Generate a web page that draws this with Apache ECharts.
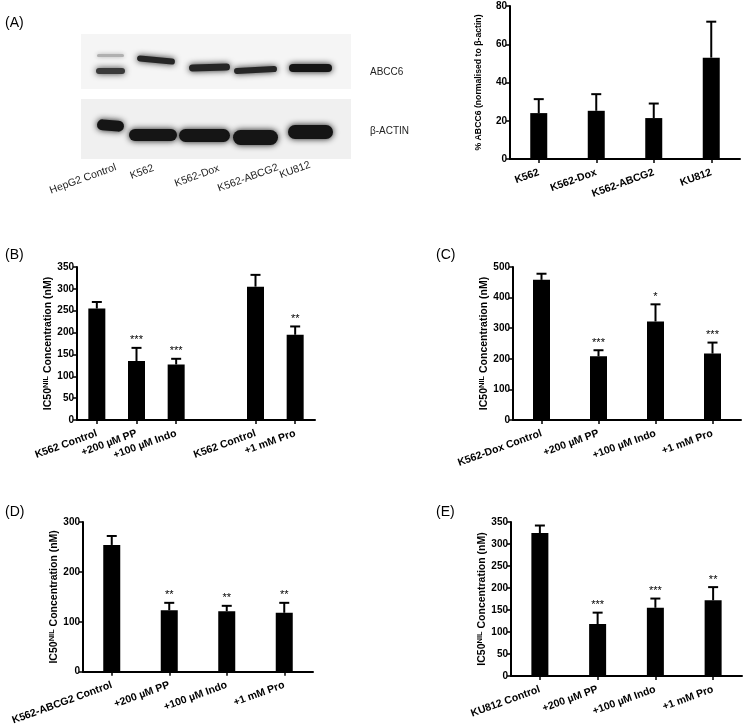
<!DOCTYPE html>
<html><head><meta charset="utf-8">
<script src="https://cdn.jsdelivr.net/npm/echarts@6/dist/echarts.min.js"></script>
<style>html,body{margin:0;padding:0;background:#fff}#c{width:745px;height:727px}</style>
</head><body><div id="c"></div>
<script>
// ---- data ----
const catsA = ['K562', 'K562-Dox', 'K562-ABCG2', 'KU812'];
const valsA = [24, 25.2, 21.4, 53];
const errA = [7.3, 8.7, 7.6, 18.8];
const starsA = ['', '', '', ''];

const catsB = ['K562 Control', '+200 µM PP', '+100 µM Indo', '', 'K562 Control', '+1 mM Pro'];
const valsB = [255, 135, 127, null, 305, 195];
const errB = [15, 30, 13, null, 27, 19];
const starsB = ['', '***', '***', '', '', '**'];

const catsC = ['K562-Dox Control', '+200 µM PP', '+100 µM Indo', '+1 mM Pro'];
const valsC = [458, 208, 322, 217];
const errC = [20, 20, 56, 36];
const starsC = ['', '***', '*', '***'];

const catsD = ['K562-ABCG2 Control', '+200 µM PP', '+100 µM Indo', '+1 mM Pro'];
const valsD = [254, 123, 121, 118];
const errD = [18, 15, 11, 20];
const starsD = ['', '**', '**', '**'];

const catsE = ['KU812 Control', '+200 µM PP', '+100 µM Indo', '+1 mM Pro'];
const valsE = [325, 118, 155, 172];
const errE = [17, 26, 21, 30];
const starsE = ['', '***', '***', '**'];

const blotLanes = ['HepG2 Control', 'K562', 'K562-Dox', 'K562-ABCG2', 'KU812'];
const blotRows = ['ABCC6', 'β-ACTIN'];

// ---- styling ----
const FONT = "'Liberation Sans', Arial, sans-serif";
const grids = [
  {left: 510, top: 6, width: 230, height: 153},
  {left: 77, top: 267, width: 238, height: 153},
  {left: 513, top: 267, width: 228, height: 153},
  {left: 83, top: 522, width: 230, height: 154},
  {left: 511, top: 522, width: 231, height: 154}
];
const panels = [
  {cats: catsA, vals: valsA, err: errA, stars: starsA, max: 80, interval: 20,
   name: '% ABCC6 (normalised to β-actin)', gap: 27, nameSize: 8.7},
  {cats: catsB, vals: valsB, err: errB, stars: starsB, max: 350, interval: 50, name: null, gap: 20},
  {cats: catsC, vals: valsC, err: errC, stars: starsC, max: 500, interval: 100, name: null, gap: 20},
  {cats: catsD, vals: valsD, err: errD, stars: starsD, max: 300, interval: 100, name: null, gap: 20},
  {cats: catsE, vals: valsE, err: errE, stars: starsE, max: 350, interval: 50, name: null, gap: 20}
];
const icName = '{b|IC50}{s|NIL}{b| Concentration (nM)}';

const xAxes = [], yAxes = [], series = [];
panels.forEach((p, k) => {
  xAxes.push({
    type: 'category', gridIndex: k, data: p.cats,
    axisLine: {lineStyle: {color: '#000', width: 2}},
    axisTick: {show: true, alignWithLabel: true, length: 4, lineStyle: {color: '#000', width: 1.5},
               interval: (i, v) => v !== ''},
    axisLabel: {interval: 0, rotate: 20, margin: 13, color: '#000', fontWeight: 'bold', fontSize: 10.5, fontFamily: FONT}
  });
  yAxes.push({
    type: 'value', gridIndex: k, min: 0, max: p.max, interval: p.interval,
    splitLine: {show: false},
    axisLine: {show: true, lineStyle: {color: '#000', width: 2}},
    axisTick: {show: true, length: 4, lineStyle: {color: '#000', width: 1.5}},
    axisLabel: {color: '#000', fontWeight: 'bold', fontSize: 10, fontFamily: FONT, margin: 3},
    name: p.name ? p.name : icName,
    nameLocation: 'middle', nameRotate: 90, nameGap: p.gap,
    nameTextStyle: {color: '#000', fontWeight: 'bold', fontSize: p.nameSize || 10.5, fontFamily: FONT,
      rich: {
        b: {fontWeight: 'bold', fontSize: 10.5, fontFamily: FONT, color: '#000'},
        s: {fontWeight: 'bold', fontSize: 7.5, fontFamily: FONT, color: '#000', verticalAlign: 'top'}
      }}
  });
  series.push({
    type: 'bar', xAxisIndex: k, yAxisIndex: k, barWidth: 17,
    data: p.vals.map(v => v === null ? '-' : v),
    itemStyle: {color: '#000'}, silent: true
  });
  const errData = [];
  p.vals.forEach((v, i) => { if (v !== null) errData.push([i, v, v + p.err[i], i]); });
  series.push({
    type: 'custom', xAxisIndex: k, yAxisIndex: k, z: 5, clip: false, silent: true,
    data: errData,
    renderItem: function (params, api) {
      const i = api.value(0), v = api.value(1), hi = api.value(2), src = api.value(3);
      const p0 = api.coord([i, v]);
      const p1 = api.coord([i, hi]);
      const ch = [
        {type: 'line', shape: {x1: p0[0], y1: p0[1], x2: p1[0], y2: p1[1]}, style: {stroke: '#000', lineWidth: 2}},
        {type: 'line', shape: {x1: p1[0] - 5, y1: p1[1], x2: p1[0] + 5, y2: p1[1]}, style: {stroke: '#000', lineWidth: 2}}
      ];
      const s = p.stars[src];
      if (s) ch.push({type: 'text', style: {text: s, x: p1[0], y: p1[1] - 2, align: 'center', verticalAlign: 'bottom',
        fontSize: 11, fontFamily: FONT, fill: '#000'}});
      return {type: 'group', children: ch};
    }
  });
});

// ---- western blot (photograph approximated) ----
const g = [];
g.push({type: 'rect', shape: {x: 81, y: 34, width: 270, height: 55}, style: {fill: '#f5f5f5'}, silent: true});
g.push({type: 'rect', shape: {x: 81, y: 99, width: 270, height: 60}, style: {fill: '#f0f0f0'}, silent: true});
function band(x, y, w, h, col, blur, rot) {
  g.push({type: 'rect', x: x + w / 2, y: y + h / 2, rotation: rot || 0,
    shape: {x: -w / 2, y: -h / 2, width: w, height: h, r: h / 2},
    style: {fill: col, shadowBlur: blur, shadowColor: col}, silent: true});
}
// ABCC6 row
band(97, 54, 27, 3, '#b0b0b0', 4);
band(96, 68, 29, 6, '#3a3a3a', 6);
band(137, 57, 38, 6, '#262626', 6, -0.1);
band(189, 64, 41, 7, '#262626', 6, 0.03);
band(234, 67, 43, 6, '#262626', 6, 0.05);
band(289, 64, 43, 8, '#151515', 6);
// beta-actin row
band(97, 120, 27, 11, '#151515', 6, -0.08);
band(129, 129, 48, 12, '#151515', 6);
band(179, 129, 51, 13, '#151515', 6);
band(233, 130, 45, 15, '#151515', 6);
band(288, 125, 45, 14, '#151515', 6);
// row labels
g.push({type: 'text', x: 370, y: 72, style: {text: blotRows[0], fontSize: 10, fontFamily: FONT, fill: '#222', verticalAlign: 'middle'}});
g.push({type: 'text', x: 370, y: 131, style: {text: blotRows[1], fontSize: 10, fontFamily: FONT, fill: '#222', verticalAlign: 'middle'}});
// lane labels
const laneLabelPos = [[83, 179], [142, 172], [197, 176], [248, 178], [295, 170]];
blotLanes.forEach((t, i) => {
  g.push({type: 'text', x: laneLabelPos[i][0], y: laneLabelPos[i][1], rotation: 20 * Math.PI / 180,
    style: {text: t, fontSize: 10.5, fontFamily: FONT, fill: '#222', align: 'center', verticalAlign: 'middle'}});
});
// panel letters
[['(A)', 5, 23], ['(B)', 5, 255], ['(C)', 436, 255], ['(D)', 5, 512], ['(E)', 436, 512]].forEach(l => {
  g.push({type: 'text', x: l[1], y: l[2], style: {text: l[0], fontSize: 14, fontFamily: FONT, fill: '#000', verticalAlign: 'middle'}});
});

const chart = echarts.init(document.getElementById('c'), null, {renderer: 'canvas'});
chart.setOption({
  animation: false,
  backgroundColor: '#fff',
  grid: grids,
  xAxis: xAxes,
  yAxis: yAxes,
  series: series,
  graphic: g
});
</script></body></html>
